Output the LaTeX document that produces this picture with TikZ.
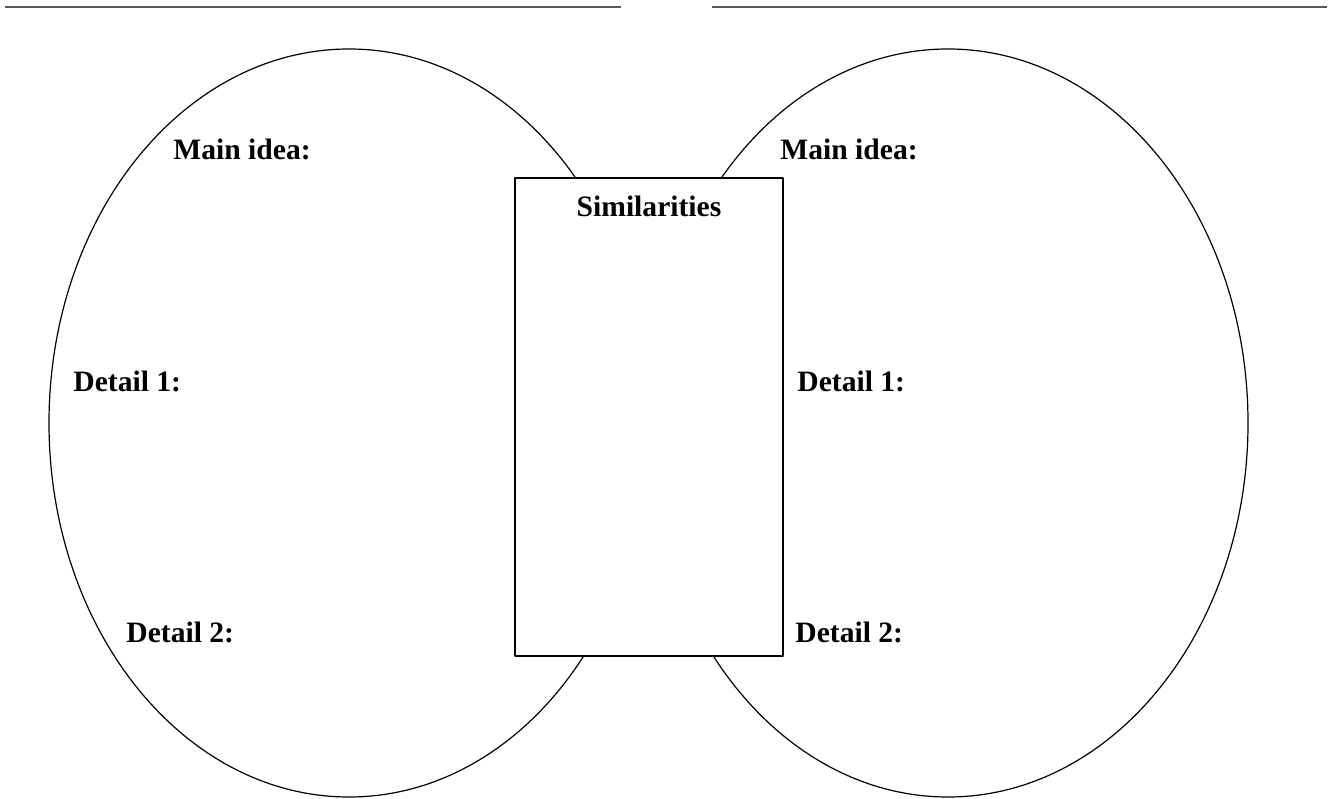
\documentclass[tikz,border=0pt]{standalone}
\usepackage{fontspec}
\setmainfont{Liberation Serif}
\usepackage{pgf,tikz}
\usepackage{color}

\begin{document}
\begin{tikzpicture}[line cap=round,line join=round,x=0.5pt,y=0.5pt,
    lbl/.style={anchor=base west,inner sep=0pt,font=\bfseries\fontsize{14.8}{17}\selectfont}]
      \useasboundingbox (0,0) rectangle (1331,798);
      \draw[line width=1.3pt,color=black!65,line cap=butt] (5,791) -- (621,791);
      \draw[line width=1.3pt,color=black!65,line cap=butt] (712,791) -- (1327,791);
      \draw[line width=0.6pt] (349,375) ellipse (150pt and 187pt);
      \draw[line width=0.6pt] (948,375) ellipse (150pt and 187pt);
      \node[draw,line width=0.6pt,fill=white,minimum width=134pt,minimum height=239pt,inner sep=0pt] (simbox) at (649,381) {};
      \node[lbl,anchor=base] (sim) at (649,581) {Similarities};
      \draw (173,638) node[lbl] (mainL) {Main idea:};
      \draw (780,638) node[lbl] (mainR) {Main idea:};
      \draw (73,406) node[lbl] (detAL) {Detail 1:};
      \draw (797,406) node[lbl] (detAR) {Detail 1:};
      \draw (126,156) node[lbl] (detBL) {Detail 2:};
      \draw (795,156) node[lbl] (detBR) {Detail 2:};
    \end{tikzpicture}
\end{document}
